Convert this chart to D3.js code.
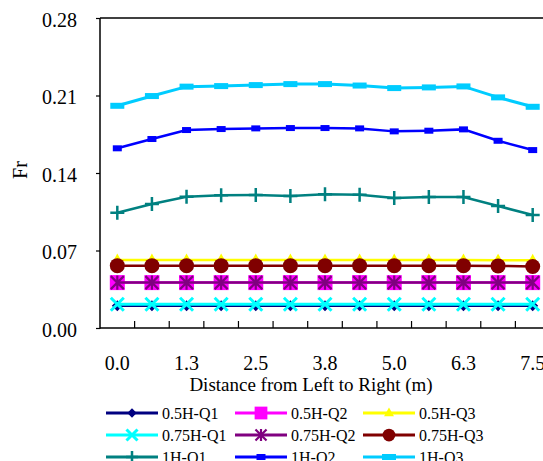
<!DOCTYPE html>
<html>
<head>
    <meta charset="utf-8">
    <title>Fr vs Distance</title>
    <style>
        body {
            margin: 0;
            background-color: #fff;
        }
        svg text {
            font-family: "Liberation Serif", "Times New Roman", serif;
            fill: #000;
        }
        .axis-line {
            stroke: #000;
            stroke-width: 1.5px;
        }
    </style>
</head>
<body>
    <div id="chart"></div>

    <script src="https://cdnjs.cloudflare.com/ajax/libs/d3/7.8.5/d3.min.js"></script>
    <script>
        // categories along the x axis (m)
        const categories = ["0.0", "0.6", "1.3", "1.9", "2.5", "3.1", "3.8", "4.4", "5.0", "5.6", "6.3", "6.9", "7.5"];
        const yTicks = [0, 0.07, 0.14, 0.21, 0.28];

        // series values
        const h05Q1 = [0.0200, 0.0200, 0.0200, 0.0200, 0.0200, 0.0200, 0.0200, 0.0200, 0.0200, 0.0200, 0.0200, 0.0200, 0.0200];
        const h05Q2 = [0.0410, 0.0410, 0.0410, 0.0410, 0.0410, 0.0410, 0.0410, 0.0410, 0.0410, 0.0410, 0.0410, 0.0410, 0.0410];
        const h05Q3 = [0.0614, 0.0614, 0.0614, 0.0614, 0.0614, 0.0614, 0.0614, 0.0614, 0.0614, 0.0614, 0.0614, 0.0613, 0.0611];
        const h075Q1 = [0.0215, 0.0215, 0.0215, 0.0215, 0.0215, 0.0215, 0.0215, 0.0215, 0.0215, 0.0215, 0.0215, 0.0215, 0.0215];
        const h075Q2 = [0.0410, 0.0410, 0.0410, 0.0410, 0.0410, 0.0410, 0.0410, 0.0410, 0.0410, 0.0410, 0.0410, 0.0410, 0.0410];
        const h075Q3 = [0.0563, 0.0563, 0.0563, 0.0563, 0.0563, 0.0563, 0.0563, 0.0563, 0.0563, 0.0563, 0.0563, 0.0561, 0.0555];
        const h1Q1 = [0.1041, 0.1120, 0.1186, 0.1198, 0.1201, 0.1192, 0.1207, 0.1204, 0.1174, 0.1183, 0.1183, 0.1102, 0.1020];
        const h1Q2 = [0.1623, 0.1707, 0.1788, 0.1797, 0.1803, 0.1806, 0.1806, 0.1803, 0.1776, 0.1782, 0.1794, 0.1691, 0.1607];
        const h1Q3 = [0.2007, 0.2095, 0.2180, 0.2185, 0.2194, 0.2203, 0.2203, 0.2190, 0.2167, 0.2173, 0.2182, 0.2083, 0.1998];

        const seriesNames = ["0.5H-Q1", "0.5H-Q2", "0.5H-Q3", "0.75H-Q1", "0.75H-Q2", "0.75H-Q3", "1H-Q1", "1H-Q2", "1H-Q3"];
        const seriesValues = [h05Q1, h05Q2, h05Q3, h075Q1, h075Q2, h075Q3, h1Q1, h1Q2, h1Q3];

        // styling per series (colour, marker, line width)
        const styles = [
            { color: "#000080", marker: "diamond", lw: 2.2 },
            { color: "#FF00FF", marker: "square", lw: 2.5 },
            { color: "#FFFF00", marker: "triangle", lw: 2.5 },
            { color: "#00FFFF", marker: "x", lw: 3 },
            { color: "#800080", marker: "star", lw: 2.5 },
            { color: "#800000", marker: "circle", lw: 2.5 },
            { color: "#008080", marker: "plus", lw: 2.5 },
            { color: "#0000FF", marker: "dashS", lw: 2.5 },
            { color: "#00CCFF", marker: "dashL", lw: 3 }
        ];

        const W = 543, H = 461;
        const plotLeft = 100, plotRight = 550, plotTop = 18, plotBottom = 328;

        const svg = d3.select("#chart")
            .append("svg")
            .attr("width", W)
            .attr("height", H);

        const x = d3.scaleBand()
            .domain(categories)
            .range([plotLeft, plotRight])
            .padding(0);

        const y = d3.scaleLinear()
            .domain([0, 0.28])
            .range([plotBottom, plotTop]);

        const cx = c => x(c) + x.bandwidth() / 2;

        // y axis
        const yAxis = svg.append("g")
            .attr("transform", `translate(${plotLeft},0)`)
            .call(d3.axisLeft(y).tickValues(yTicks).tickFormat(d3.format(".2f")).tickSize(4).tickPadding(19));
        yAxis.select(".domain").remove();
        yAxis.selectAll("line").attr("stroke", "#000").attr("stroke-width", 1.2);
        yAxis.selectAll("text")
            .attr("font-size", "20px")
            .attr("dy", "0.42em")
            .style("font-family", "'Liberation Serif', serif");

        // x axis: ticks between categories, pointing inward
        const xAxis = svg.append("g")
            .attr("transform", `translate(0,${plotBottom})`)
            .call(d3.axisBottom(x)
                .tickValues(categories.filter((c, i) => i % 2 === 0))
                .tickSize(0)
                .tickPadding(28));
        xAxis.select(".domain").remove();
        xAxis.selectAll("text")
            .attr("font-size", "20px")
            .style("font-family", "'Liberation Serif', serif");

        svg.append("g")
            .selectAll("line")
            .data(categories.slice(1))
            .join("line")
            .attr("x1", d => x(d))
            .attr("x2", d => x(d))
            .attr("y1", plotBottom)
            .attr("y2", plotBottom - 7)
            .attr("stroke", "#000")
            .attr("stroke-width", 1.2);

        // frame: left, top, bottom
        svg.append("line").attr("class", "axis-line")
            .attr("x1", plotLeft).attr("x2", plotLeft).attr("y1", plotTop).attr("y2", plotBottom + 0.75);
        svg.append("line").attr("class", "axis-line")
            .attr("x1", plotLeft).attr("x2", plotRight).attr("y1", plotTop).attr("y2", plotTop);
        svg.append("line").attr("class", "axis-line")
            .attr("x1", plotLeft).attr("x2", plotRight).attr("y1", plotBottom).attr("y2", plotBottom);

        // axis titles
        svg.append("text")
            .attr("x", 311)
            .attr("y", 391)
            .attr("text-anchor", "middle")
            .attr("font-size", "19px")
            .text("Distance from Left to Right (m)");

        svg.append("text")
            .attr("transform", "translate(27,170) rotate(-90)")
            .attr("text-anchor", "middle")
            .attr("font-size", "20px")
            .text("Fr");

        // draw one marker into a group at (px,py)
        function drawMarker(g, type, color, px, py, s) {
            s = s || 1;
            if (type === "diamond") {
                const r = 5.5 * s;
                g.append("path")
                    .attr("d", `M${px},${py - r}L${px + r},${py}L${px},${py + r}L${px - r},${py}Z`)
                    .attr("fill", color);
            } else if (type === "square") {
                const r = 7.5 * s;
                g.append("rect")
                    .attr("x", px - r).attr("y", py - r)
                    .attr("width", 2 * r).attr("height", 2 * r)
                    .attr("fill", color);
            } else if (type === "triangle") {
                const r = 6.5 * s;
                g.append("path")
                    .attr("d", `M${px},${py - r}L${px + r * 0.9},${py + r * 0.6}L${px - r * 0.9},${py + r * 0.6}Z`)
                    .attr("fill", color);
            } else if (type === "x") {
                const r = 6.5 * s;
                g.append("path")
                    .attr("d", `M${px - r},${py - r}L${px + r},${py + r}M${px + r},${py - r}L${px - r},${py + r}`)
                    .attr("stroke", color).attr("stroke-width", 3);
            } else if (type === "star") {
                const r = 6.5 * s;
                g.append("path")
                    .attr("d", `M${px - r},${py - r}L${px + r},${py + r}M${px + r},${py - r}L${px - r},${py + r}M${px},${py - r * 1.1}L${px},${py + r * 1.1}`)
                    .attr("stroke", color).attr("stroke-width", 2.2);
            } else if (type === "circle") {
                g.append("circle")
                    .attr("cx", px).attr("cy", py).attr("r", 7.5 * s)
                    .attr("fill", color);
            } else if (type === "plus") {
                const r = 7 * s;
                g.append("path")
                    .attr("d", `M${px - r},${py}L${px + r},${py}M${px},${py - r}L${px},${py + r}`)
                    .attr("stroke", color).attr("stroke-width", 2.5);
            } else if (type === "dashS") {
                g.append("rect")
                    .attr("x", px - 4.5).attr("y", py - 3)
                    .attr("width", 9).attr("height", 6)
                    .attr("fill", color);
            } else if (type === "dashL") {
                g.append("rect")
                    .attr("x", px - 7).attr("y", py - 3)
                    .attr("width", 14).attr("height", 6)
                    .attr("fill", color);
            }
        }

        const line = d3.line()
            .x((d, i) => cx(categories[i]))
            .y(d => y(d));

        // series lines and markers, drawn in order
        seriesValues.forEach((vals, k) => {
            const st = styles[k];
            const g = svg.append("g");
            g.append("path")
                .datum(vals)
                .attr("d", line)
                .attr("fill", "none")
                .attr("stroke", st.color)
                .attr("stroke-width", st.lw);
            vals.forEach((v, i) => drawMarker(g, st.marker, st.color, cx(categories[i]), y(v)));
        });

        // legend, 3 columns
        const legX = [106, 235, 363];
        const legY = [413, 435, 457];
        seriesNames.forEach((name, k) => {
            const st = styles[k];
            const x0 = legX[k % 3], y0 = legY[Math.floor(k / 3)];
            const g = svg.append("g");
            g.append("line")
                .attr("x1", x0).attr("x2", x0 + 52)
                .attr("y1", y0).attr("y2", y0)
                .attr("stroke", st.color)
                .attr("stroke-width", 3);
            drawMarker(g, st.marker, st.color, x0 + 26, y0, 0.85);
            g.append("text")
                .attr("x", x0 + 56)
                .attr("y", y0 + 5.5)
                .attr("font-size", "16px")
                .text(name);
        });
    </script>
</body>
</html>
